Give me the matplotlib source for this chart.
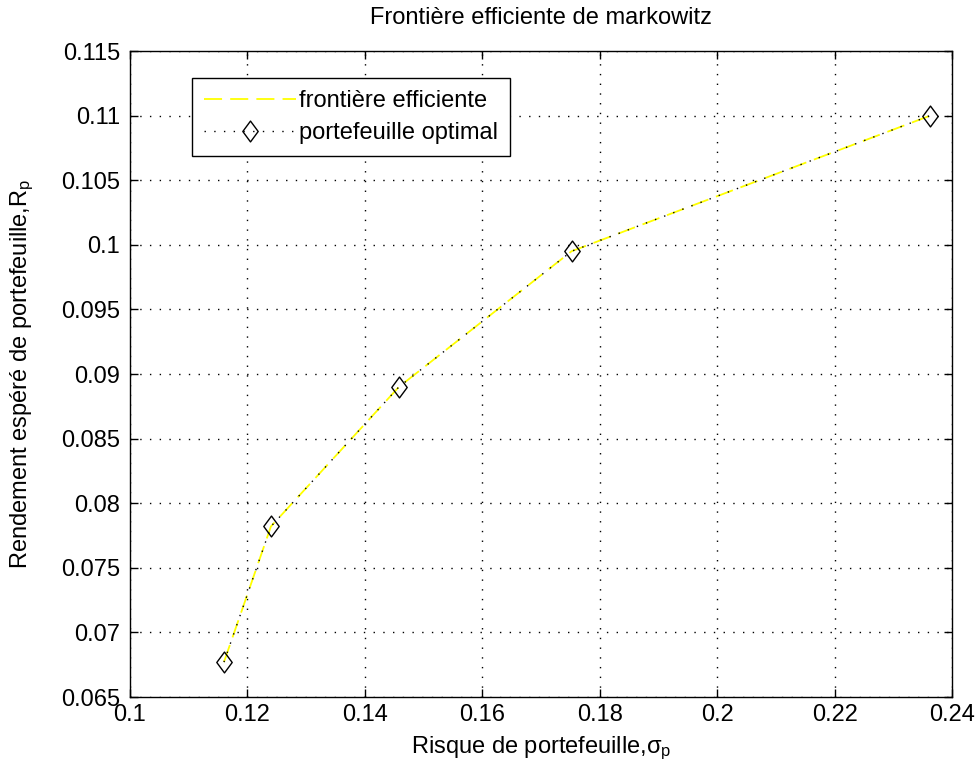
import numpy as np
import matplotlib
matplotlib.use("Agg")
import matplotlib.pyplot as plt
from matplotlib.path import Path

plt.rcParams['font.family'] = ['Liberation Sans', 'DejaVu Sans']
plt.rcParams['mathtext.fontset'] = 'custom'
plt.rcParams['mathtext.rm'] = 'Liberation Sans'
plt.rcParams['mathtext.it'] = 'Liberation Sans'
plt.rcParams['mathtext.default'] = 'regular'

# risque et rendement des portefeuilles optimaux
risque = [0.1160, 0.1240, 0.1458, 0.1752, 0.2363]
rendement = [0.0677, 0.0782, 0.0890, 0.0995, 0.1100]

# frontiere efficiente (memes points)
front_risque = risque
front_rendement = rendement

xticks = [0.1, 0.12, 0.14, 0.16, 0.18, 0.2, 0.22, 0.24]
xticklabels = ['0.1', '0.12', '0.14', '0.16', '0.18', '0.2', '0.22', '0.24']
yticks = [0.065, 0.07, 0.075, 0.08, 0.085, 0.09, 0.095, 0.1, 0.105, 0.11, 0.115]
yticklabels = ['0.065', '0.07', '0.075', '0.08', '0.085', '0.09', '0.095', '0.1', '0.105', '0.11', '0.115']

# marqueur losange type matlab
losange = Path([(0, 1), (0.74, 0), (0, -1), (-0.74, 0), (0, 1)],
               [Path.MOVETO, Path.LINETO, Path.LINETO, Path.LINETO, Path.CLOSEPOLY])

fs = 17

fig = plt.figure(figsize=(9.79, 7.76), dpi=100)
ax = fig.add_axes([130/979, 1-697/776, 822/979, 646/776])

ax.plot(front_risque, front_rendement, '--', color=(1, 1, 0), lw=1.3, dashes=(10, 4.5),
        label='frontière efficiente')
ax.plot(risque, rendement, ':', color='k', lw=1, dashes=(1, 6), marker=losange,
        markersize=15, markerfacecolor='none', markeredgecolor='k', markeredgewidth=1,
        label='portefeuille optimal')

ax.set_xlim(0.1, 0.24)
ax.set_ylim(0.065, 0.115)
ax.set_xticks(xticks)
ax.set_xticklabels(xticklabels)
ax.set_yticks(yticks)
ax.set_yticklabels(yticklabels)
ax.tick_params(direction='in', top=True, right=True, length=6, labelsize=fs, width=1)
ax.tick_params(axis='y', pad=7)
ax.tick_params(axis='x', pad=5)
ax.grid(True, linestyle=(0, (1, 6)), color='k', lw=1)
for s in ax.spines.values():
    s.set_linewidth(1)

fig.text(0.5 * (130 + 952) / 979, 1 - 18/776, 'Frontière efficiente de markowitz',
         fontsize=fs, ha='center', va='center')
ax.set_xlabel('Risque de portefeuille,$\\sigma_p$', fontsize=fs)
ax.set_ylabel('Rendement espéré de portefeuille,$R_p$', fontsize=fs)
ax.xaxis.set_label_coords(0.5, (697 - 748) / 646)
ax.xaxis.label.set_va('center')
ax.yaxis.set_label_coords((22 - 130) / 822, 0.5)
ax.yaxis.label.set_va('center')

leg = ax.legend(loc='upper left', bbox_to_anchor=((192 - 130) / 822, (697 - 78) / 646),
                borderaxespad=0, fontsize=fs, fancybox=False, framealpha=1, edgecolor='k',
                handlelength=3.9, handletextpad=0.15, borderpad=0.5, labelspacing=0.45)
leg.get_frame().set_linewidth(1)

fig.savefig('out.png', dpi=100)
